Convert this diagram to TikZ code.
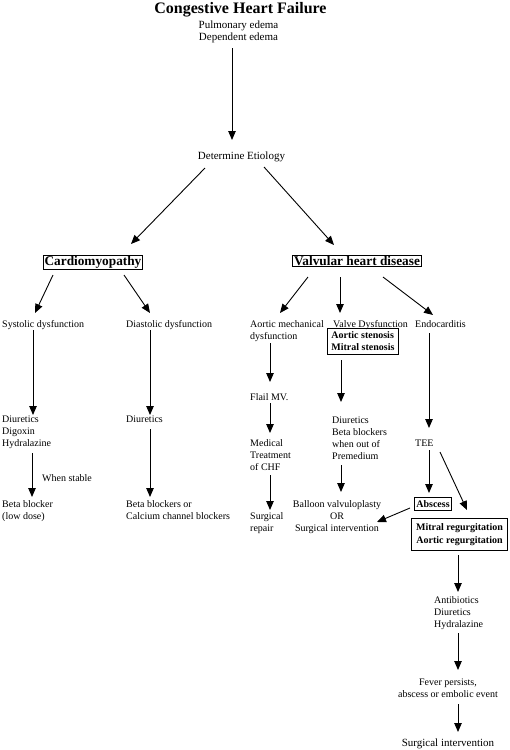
\documentclass[tikz,border=0pt]{standalone}
\usepackage{fontspec}
\setmainfont{Liberation Serif}
\usetikzlibrary{arrows.meta}
\tikzset{
  txt/.style={inner sep=0pt, font=\fontsize{10}{12}\selectfont},
  bigtxt/.style={inner sep=0pt, font=\fontsize{11}{13}\selectfont},
  titletxt/.style={inner sep=0pt, font=\fontsize{16}{18}\selectfont\bfseries},
  subtxt/.style={inner sep=0pt, align=center, font=\fontsize{11}{12}\selectfont},
  headbox/.style={draw, line width=0.8pt, inner xsep=1.2pt, inner ysep=1pt, font=\fontsize{13.3}{15}\selectfont\bfseries},
  boldbox/.style={draw, line width=0.8pt, font=\fontsize{10}{12}\selectfont\bfseries},
  arr/.style={line width=0.9pt, -{Triangle[length=9pt,width=7.5pt]}}
}
\begin{document}
\begin{tikzpicture}[x=1pt,y=-1pt]
\useasboundingbox (0,0) rectangle (510,750);
% nodes
\node[titletxt, anchor=base] (title) at (240.5,13.5) {Congestive Heart Failure};
\node[subtxt, anchor=north] (sub) at (238.5,20.6) {Pulmonary edema\\Dependent edema};
\node[bigtxt, anchor=base] (etio) at (241.5,159) {Determine Etiology};
\node[headbox, anchor=base] (cardio) at (93,265.3) {Cardiomyopathy};
\node[headbox, anchor=base] (valv) at (357,265.3) {Valvular heart disease};
\node[txt, anchor=base west] (sys) at (2,327.5) {Systolic dysfunction};
\node[txt, anchor=base west] (dia) at (126,327.5) {Diastolic dysfunction};
\node[txt, anchor=north west, align=left] (aor) at (250,320.7) {Aortic mechanical\\dysfunction};
\node[txt, anchor=base west] (vd) at (333,327.5) {Valve Dysfunction};
\node[txt, anchor=base west] (endo) at (415,327.5) {Endocarditis};
\node[boldbox, anchor=north west, align=left, inner xsep=4pt, inner ysep=3.5pt] (sten) at (327,328) {Aortic stenosis\\Mitral stenosis};
\node[txt, anchor=north west, align=left] (sdig) at (2,415.7) {Diuretics\\Digoxin\\Hydralazine};
\node[txt, anchor=base west] (ddiu) at (126,422.5) {Diuretics};
\node[txt, anchor=base west] (stab) at (42,481.5) {When stable};
\node[txt, anchor=north west, align=left] (bb) at (2,500.7) {Beta blocker\\(low dose)};
\node[txt, anchor=north west, align=left] (bbc) at (126,500.7) {Beta blockers or\\Calcium channel blockers};
\node[txt, anchor=base west] (flail) at (250,400.5) {Flail MV.};
\node[txt, anchor=north west, align=left] (med) at (250,439.7) {Medical\\Treatment\\of CHF};
\node[txt, anchor=north west, align=left] (srep) at (250,512.7) {Surgical\\repair};
\node[txt, anchor=north west, align=left] (vdiu) at (332,416.7) {Diuretics\\Beta blockers\\when out of\\Premedium};
\node[txt, anchor=north, align=center] (ball) at (337,500.7) {Balloon valvuloplasty\\OR\\Surgical intervention};
\node[txt, anchor=base west] (tee) at (415,446.5) {TEE};
\node[boldbox, anchor=base, inner xsep=1.5pt, inner ysep=3pt] (abs) at (433,507.5) {Abscess};
\node[boldbox, anchor=north, align=center, inner xsep=5pt, inner ysep=5pt, line width=1.2pt, font=\fontsize{10}{13}\selectfont\bfseries] (mr) at (459.5,518) {Mitral regurgitation\\Aortic regurgitation};
\node[txt, anchor=north west, align=left] (anti) at (434,596.7) {Antibiotics\\Diuretics\\Hydralazine};
\node[txt, anchor=north, align=center, font=\fontsize{10}{11.5}\selectfont] (fev) at (448,678.7) {Fever persists,\\abscess or embolic event};
\node[bigtxt, anchor=base] (surg) at (448,746.5) {Surgical intervention};
% connectors
\draw[arr] ([xshift=-6.5pt,yshift=-27.4pt]sub.north) -- ([xshift=-9.5pt,yshift=19pt]etio.base);
\draw[arr] ([xshift=-36.5pt,yshift=-9pt]etio.base) -- ([xshift=38pt,yshift=21.3pt]cardio.base);
\draw[arr] ([xshift=22.5pt,yshift=-8pt]etio.base) -- ([xshift=-23pt,yshift=20.3pt]valv.base);
\draw[arr] ([xshift=-40pt,yshift=-9.7pt]cardio.base) -- ([xshift=33pt,yshift=14.5pt]sys.base west);
\draw[arr] ([xshift=31pt,yshift=-9.7pt]cardio.base) -- ([xshift=24pt,yshift=14.5pt]dia.base west);
\draw[arr] ([xshift=-49pt,yshift=-11.7pt]valv.base) -- ([xshift=30pt,yshift=7.7pt]aor.north west);
\draw[arr] ([xshift=-17pt,yshift=-11.7pt]valv.base) -- ([xshift=7pt,yshift=14.5pt]vd.base west);
\draw[arr] ([xshift=26pt,yshift=-11.7pt]valv.base) -- ([xshift=18pt,yshift=12.5pt]endo.base west);
\draw[arr] ([xshift=31pt,yshift=-2.5pt]sys.base west) -- ([xshift=31pt,yshift=0.7pt]sdig.north west);
\draw[arr] ([xshift=24pt,yshift=-2.5pt]dia.base west) -- ([xshift=24pt,yshift=7.5pt]ddiu.base west);
\draw[arr] ([xshift=30pt,yshift=-37.3pt]sdig.north west) -- ([xshift=30pt,yshift=3.7pt]bb.north west);
\draw[arr] ([xshift=24pt,yshift=-6.5pt]ddiu.base west) -- ([xshift=24pt,yshift=3.7pt]bbc.north west);
\draw[arr] ([xshift=20pt,yshift=-22.3pt]aor.north west) -- ([xshift=20pt,yshift=18.5pt]flail.base west);
\draw[arr] ([xshift=20pt,yshift=-2.5pt]flail.base west) -- ([xshift=20pt,yshift=6.7pt]med.north west);
\draw[arr] ([xshift=20pt,yshift=-35.3pt]med.north west) -- ([xshift=20pt,yshift=2.7pt]srep.north west);
\draw[arr] ([xshift=14pt,yshift=-32pt]sten.north west) -- ([xshift=9pt,yshift=14.7pt]vdiu.north west);
\draw[arr] ([xshift=9pt,yshift=-48.3pt]vdiu.north west) -- ([xshift=4pt,yshift=8.7pt]ball.north);
\draw[arr] ([xshift=14pt,yshift=-5.5pt]endo.base west) -- ([xshift=14pt,yshift=18.5pt]tee.base west);
\draw[arr] ([xshift=14pt,yshift=-3.5pt]tee.base west) -- ([xshift=-4pt,yshift=14.5pt]abs.base);
\draw[arr] ([xshift=25pt,yshift=-5.5pt]tee.base west) -- ([xshift=7.5pt,yshift=8pt]mr.north);
\draw[arr] ([xshift=-23pt,yshift=-0.5pt]abs.base) -- ([xshift=40pt,yshift=-21.3pt]ball.north);
\draw[arr] ([xshift=-1.5pt,yshift=-37pt]mr.north) -- ([xshift=24pt,yshift=4.7pt]anti.north west);
\draw[arr] ([xshift=24pt,yshift=-36.3pt]anti.north west) -- ([xshift=10pt,yshift=8.7pt]fev.north);
\draw[arr] ([xshift=10pt,yshift=-25.3pt]fev.north) -- ([xshift=10pt,yshift=14.5pt]surg.base);
\end{tikzpicture}
\end{document}
